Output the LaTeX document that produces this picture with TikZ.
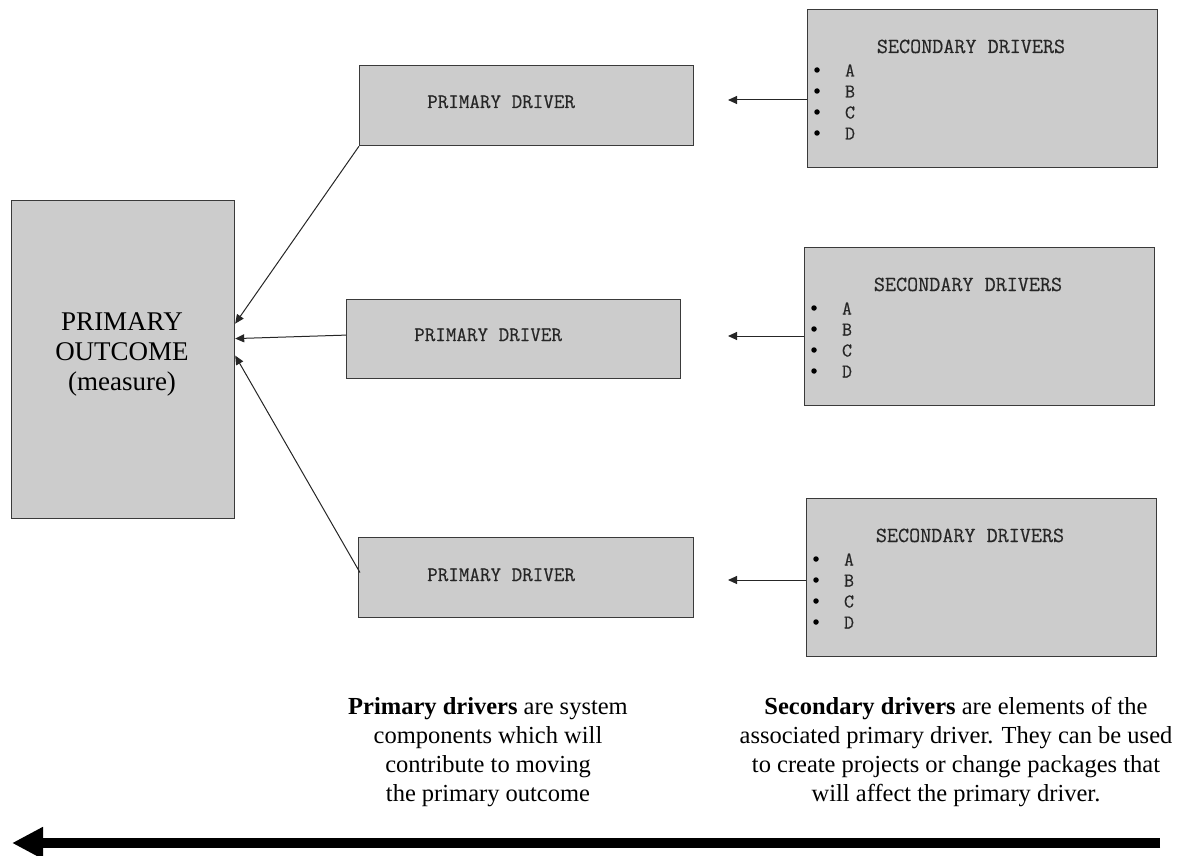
\documentclass[tikz,border=0pt]{standalone}
\usepackage{fontspec}
\setmainfont{Liberation Serif}
\newfontfamily\drvfont{Latin Modern Mono}[FakeBold=0.4]
\usetikzlibrary{arrows.meta,calc}
\definecolor{boxgray}{HTML}{CCCCCC}
\definecolor{edgegray}{HTML}{3A3A3A}
\tikzset{
  box/.style={draw=edgegray, line width=1.2pt, fill=boxgray, rectangle, anchor=north west, inner sep=0pt},
  pdtext/.style={font=\drvfont\fontsize{20.5}{24}\selectfont, anchor=base west, inner sep=0pt, text=black!85},
  stitle/.style={font=\drvfont\fontsize{21.5}{24}\selectfont, anchor=base, inner sep=0pt, text=black!85},
  sitem/.style={font=\drvfont\fontsize{19.5}{22}\selectfont, anchor=base, inner sep=0pt, text=black!85},
  sbullet/.style={circle, fill=black, inner sep=0pt, minimum size=5.5pt},
  conn/.style={draw=black!85, line width=1pt, -{Triangle[length=9pt,width=8pt]}},
  note/.style={font=\fontsize{24.5}{29}\selectfont, align=center, anchor=north, inner sep=0pt},
  bigarrow/.style={draw=black, line width=10pt, -{Triangle[length=31pt,width=30pt]}}
}
\begin{document}
\begin{tikzpicture}[x=1pt, y=-1pt]
\useasboundingbox (0,0) rectangle (1187,856);

% primary outcome
\node[box, minimum width=223pt, minimum height=318pt] (po) at (11,200) {};
\node[font=\fontsize{27}{30}\selectfont, align=center, inner sep=0pt] (pot) at (122,354)
  {PRIMARY\\OUTCOME\\(measure)};

% primary drivers
\node[box, minimum width=334pt, minimum height=80pt] (pd1) at (359,65) {};
\node[pdtext] (pd1t) at (427,108) {PRIMARY DRIVER};
\node[box, minimum width=334pt, minimum height=79pt] (pd2) at (346,299) {};
\node[pdtext] (pd2t) at (414,341) {PRIMARY DRIVER};
\node[box, minimum width=335pt, minimum height=80pt] (pd3) at (358,537) {};
\node[pdtext] (pd3t) at (427,581) {PRIMARY DRIVER};

% secondary driver boxes with their bullet lists
\foreach \n/\x/\y in {s1/807/9, s2/804/247, s3/806/498} {
  \node[box, minimum width=350pt, minimum height=158pt] (\n) at (\x,\y) {};
  \node[stitle] (\n t) at ($(\n.north west)+(164,44)$) {SECONDARY DRIVERS};
  \foreach \l [count=\i] in {A,B,C,D} {
    \node[sbullet] (\n b\i) at ($(\n.north west)+(10,40+21*\i)$) {};
    \node[sitem] (\n\l) at ($(\n.north west)+(43,46.5+21*\i)$) {\l};
  }
}

% secondary -> primary arrows (free ends short of the primary boxes)
\coordinate (e1) at (728,100);
\coordinate (e2) at (728,336);
\coordinate (e3) at (728,580);
\draw[conn] (s1.west |- e1) -- (e1);
\draw[conn] (s2.west |- e2) -- (e2);
\draw[conn] (s3.west |- e3) -- (e3);

% primary -> outcome arrows
\draw[conn] (pd1.south west) -- ([yshift=36pt]po.east);
\draw[conn] ([yshift=4pt]pd2.west) -- ([yshift=21pt]po.east);
\draw[conn] ([xshift=2pt,yshift=5pt]pd3.west) -- ([yshift=4pt]po.east);

% explanatory notes
\node[note] (n1) at (488,697) {\textbf{Primary drivers} are system\\components which will\\contribute to moving\\the primary outcome};
\node[note] (n2) at (956,697) {\textbf{Secondary drivers} are elements of the\\associated primary driver. They can be used\\to create projects or change packages that\\will affect the primary driver.};

% direction arrow along the bottom
\coordinate (ba) at (1160,843);
\coordinate (bb) at (12,843);
\draw[bigarrow] (ba) -- (bb);
\end{tikzpicture}
\end{document}
